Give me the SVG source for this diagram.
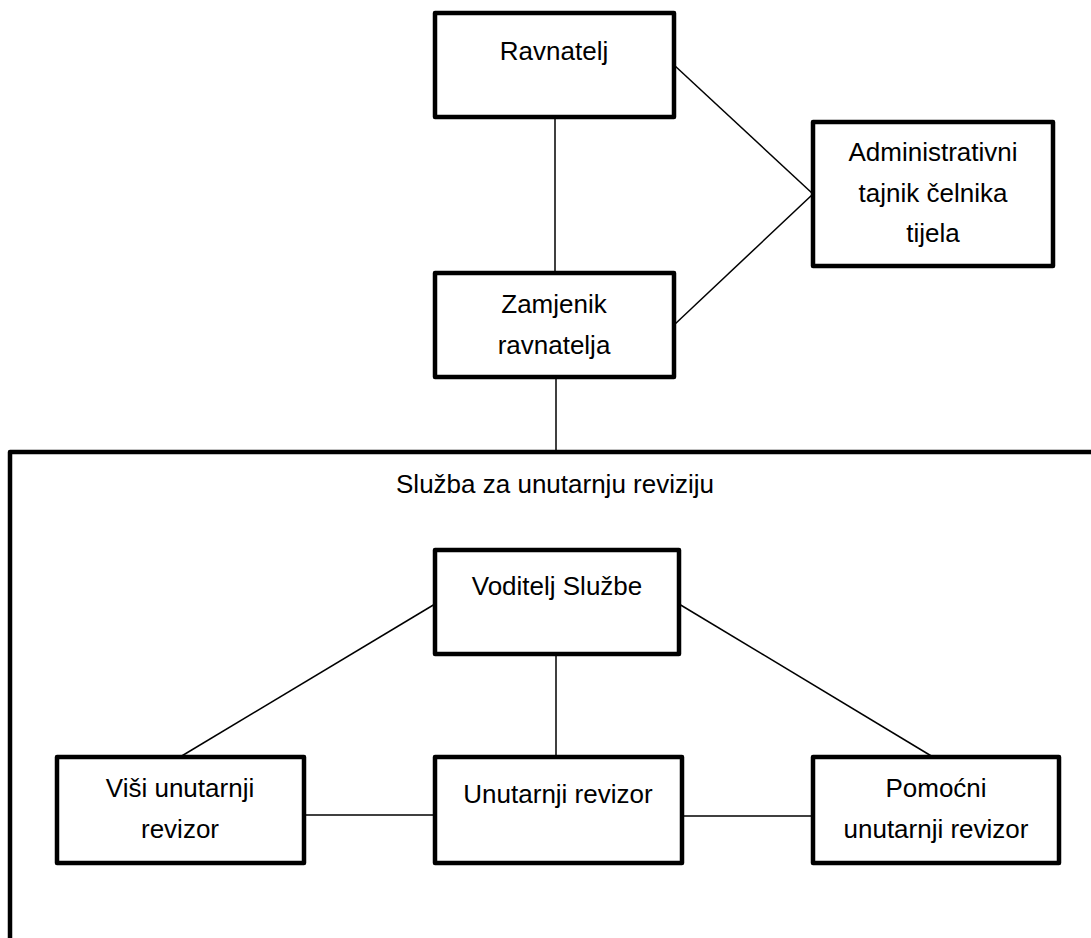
<svg xmlns="http://www.w3.org/2000/svg" width="1091" height="938" viewBox="0 0 1091 938">
<style>
.box{fill:#fff;stroke:#000;stroke-width:4.5;stroke-linejoin:round}
.frame{fill:none;stroke:#000;stroke-width:4.5;stroke-linejoin:round}
.conn{stroke:#000;stroke-width:1.5;fill:none}
text{font-family:"Liberation Sans",Arial,sans-serif;font-size:26px;fill:#000;text-anchor:middle}
</style>
<rect x="0" y="0" width="1091" height="938" fill="#fff"/>
<g id="container">
<rect class="frame" x="10" y="452" width="1200" height="600"/>
<text x="555" y="493">Služba za unutarnju reviziju</text>
</g>
<g id="connectors">
<line class="conn" x1="555" y1="117" x2="555" y2="273"/>
<line class="conn" x1="556" y1="377" x2="556" y2="452"/>
<line class="conn" x1="674" y1="65" x2="813" y2="194"/>
<line class="conn" x1="674" y1="325" x2="813" y2="194"/>
<line class="conn" x1="435" y1="604" x2="180" y2="757"/>
<line class="conn" x1="679" y1="604" x2="933" y2="757"/>
<line class="conn" x1="556" y1="654" x2="556" y2="757"/>
<line class="conn" x1="304" y1="815" x2="435" y2="815"/>
<line class="conn" x1="682" y1="816" x2="813" y2="816"/>
</g>
<g id="ravnatelj">
<rect class="box" x="435" y="13" width="239" height="104"/>
<text x="554" y="60">Ravnatelj</text>
</g>
<g id="zamjenik">
<rect class="box" x="435" y="273" width="239" height="104"/>
<text x="554" y="313">Zamjenik</text>
<text x="554" y="354">ravnatelja</text>
</g>
<g id="administrativni">
<rect class="box" x="813" y="122" width="240" height="144"/>
<text x="933" y="161">Administrativni</text>
<text x="933" y="202">tajnik čelnika</text>
<text x="933" y="242">tijela</text>
</g>
<g id="voditelj">
<rect class="box" x="435" y="550" width="244" height="104"/>
<text x="557" y="595">Voditelj Službe</text>
</g>
<g id="visi">
<rect class="box" x="57" y="757" width="247" height="106"/>
<text x="180" y="797">Viši unutarnji</text>
<text x="180" y="838">revizor</text>
</g>
<g id="unutarnji">
<rect class="box" x="435" y="757" width="247" height="106"/>
<text x="558" y="803">Unutarnji revizor</text>
</g>
<g id="pomocni">
<rect class="box" x="813" y="757" width="246" height="106"/>
<text x="936" y="797">Pomoćni</text>
<text x="936" y="838">unutarnji revizor</text>
</g>
</svg>
